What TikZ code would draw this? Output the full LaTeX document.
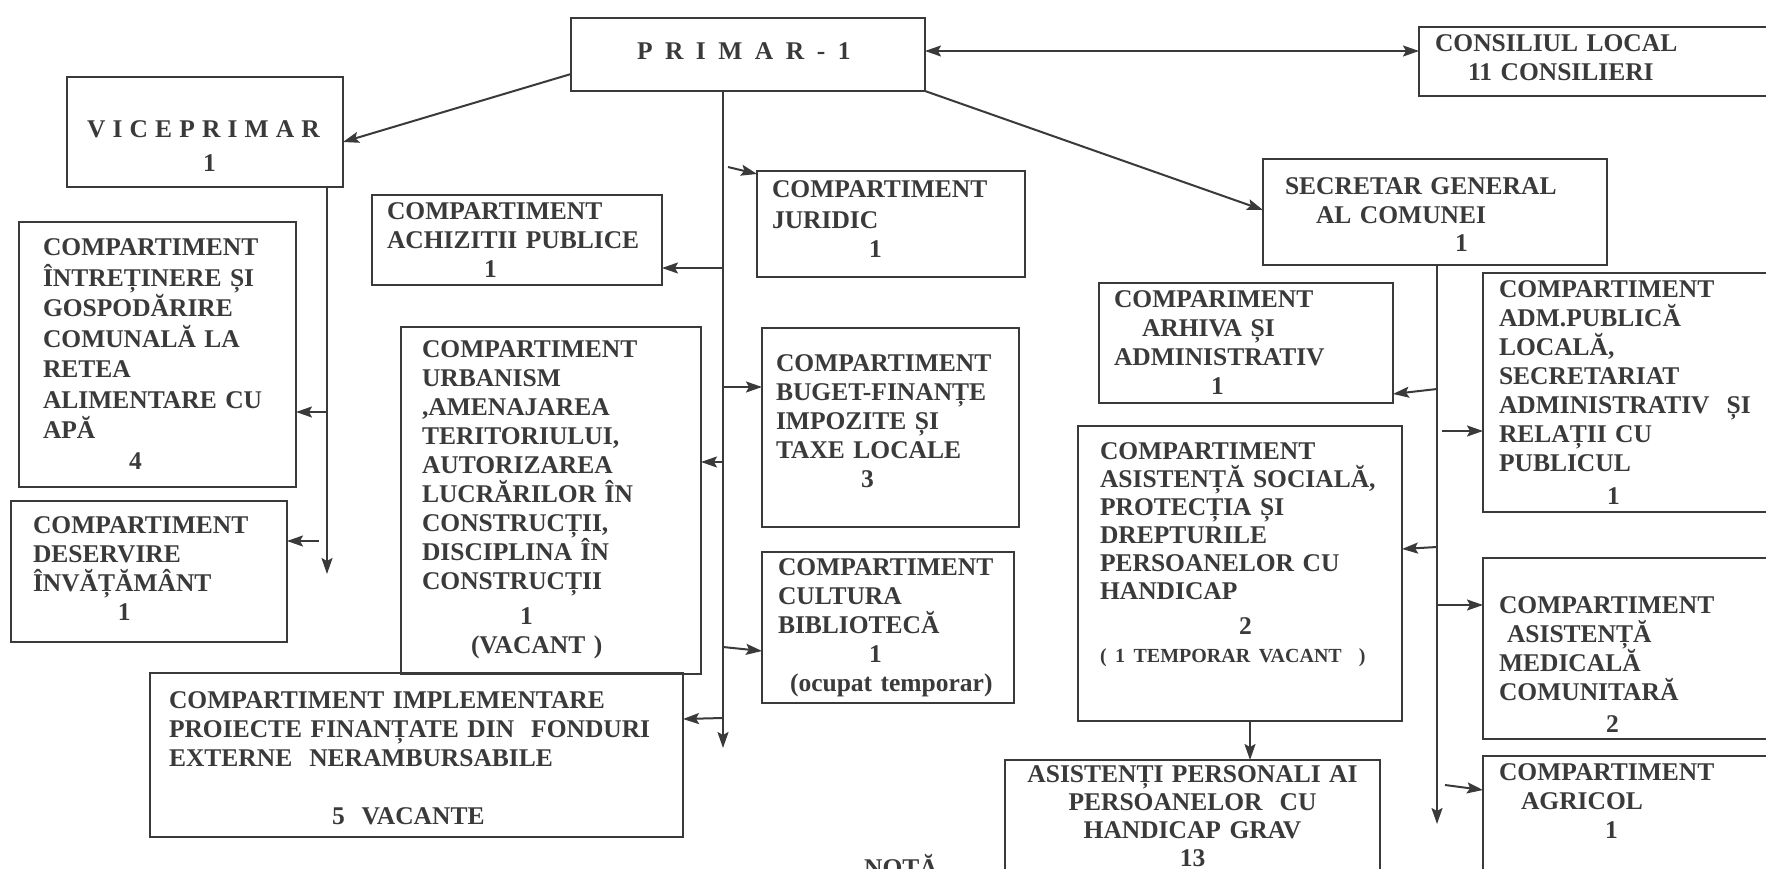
\documentclass[tikz,border=0pt]{standalone}
\usepackage{fontspec}
\setmainfont{Liberation Serif}
\usetikzlibrary{arrows.meta}
\definecolor{ink}{HTML}{3A3A3A}

\begin{document}
\begin{tikzpicture}[x=1pt, y=-1pt,
  dept/.style={draw=ink, line width=2pt, outer sep=0pt, anchor=north west, align=left, inner ysep=0pt, text=ink, font=\bfseries\fontsize{25.5}{29}\selectfont},
  subord/.style={draw=ink, line width=2pt, -{Stealth[length=16pt, width=11pt, inset=3pt]}},
  twoway/.style={subord, {Stealth[length=16pt, width=11pt, inset=3pt]}-{Stealth[length=16pt, width=11pt, inset=3pt]}}]
  \useasboundingbox[fill=white] (0,0) rectangle (1766,869);
  \node[dept, inner xsep=66pt, text width=222pt, text height=41.5pt, text depth=31.5pt] (primar) at (571,18) {{\spaceskip=.49em P R I M A R - 1}};
  \node[dept, inner xsep=16pt, text width=349pt, text height=24.5pt, text depth=44.5pt] (consiliu) at (1419,27) {CONSILIUL~LOCAL\\\hspace*{33pt}11~CONSILIERI};
  \node[dept, inner xsep=20pt, text width=236pt, text height=61pt, text depth=49pt] (vice) at (67,77) {{\spaceskip=.28em V I C E P R I M A R}\\[4.5pt]\hspace*{116pt}1};
  \node[dept, inner xsep=22pt, text width=300pt, text height=35pt, text depth=71pt] (secr) at (1263,159) {SECRETAR~GENERAL\\\hspace*{31pt}AL~COMUNEI\\\hspace*{170pt}1};
  \node[dept, inner xsep=15pt, text width=238pt, text height=26pt, text depth=80pt] (juridic) at (757,171) {COMPARTIMENT\\[2pt]JURIDIC\\\hspace*{97pt}1};
  \node[dept, inner xsep=15pt, text width=260pt, text height=24pt, text depth=66pt] (achiz) at (372,195) {COMPARTIMENT\\ACHIZITII~PUBLICE\\\hspace*{97pt}1};
  \node[dept, font=\bfseries\fontsize{25.5}{30.5}\selectfont, inner xsep=24pt, text width=229pt, text height=33.5pt, text depth=231.5pt] (intret) at (19,222) {COMPARTIMENT\\ÎNTREȚINERE~ȘI\\GOSPODĂRIRE\\COMUNALĂ~LA\\RETEA\\ALIMENTARE~CU\\APĂ\\\hspace*{86pt}4};
  \node[dept, inner xsep=22pt, text width=232pt, text height=32.5pt, text depth=108.5pt] (deserv) at (11,501) {COMPARTIMENT\\DESERVIRE\\ÎNVĂȚĂMÂNT\\\hspace*{85pt}1};
  \node[dept, inner xsep=21pt, text width=258pt, text height=30.5pt, text depth=316.5pt] (urban) at (401,327) {COMPARTIMENT\\URBANISM\\,AMENAJAREA\\TERITORIULUI,\\AUTORIZAREA\\LUCRĂRILOR~ÎN\\CONSTRUCȚII,\\DISCIPLINA~ÎN\\CONSTRUCȚII\\[6pt]\hspace*{98pt}1\\\hspace*{49pt}(VACANT~)};
  \node[dept, inner xsep=14pt, text width=229pt, text height=43pt, text depth=156pt] (buget) at (762,328) {COMPARTIMENT\\BUGET-FINANȚE\\IMPOZITE~ȘI\\TAXE~LOCALE\\\hspace*{85pt}3};
  \node[dept, inner xsep=16pt, text width=220pt, text height=23pt, text depth=128pt] (cultura) at (762,552) {COMPARTIMENT\\CULTURA\\BIBLIOTECĂ\\\hspace*{91pt}1\\\hspace*{12pt}(ocupat~temporar)};
  \node[dept, inner xsep=19pt, text width=495pt, text height=35.5pt, text depth=128.5pt] (implem) at (150,673) {COMPARTIMENT~IMPLEMENTARE\\PROIECTE~FINANȚATE~DIN~~FONDURI\\EXTERNE~~NERAMBURSABILE\\[29pt]\hspace*{163pt}5~~VACANTE};
  \node[dept, inner xsep=15pt, text width=264pt, text height=24pt, text depth=96pt] (arhiva) at (1099,283) {COMPARIMENT\\\hspace*{28pt}ARHIVA~ȘI\\ADMINISTRATIV\\\hspace*{97pt}1};
  \node[dept, inner xsep=16pt, text width=285pt, text height=24.5pt, text depth=214.5pt] (adm) at (1483,273) {COMPARTIMENT\\ADM.PUBLICĂ\\LOCALĂ,\\SECRETARIAT\\ADMINISTRATIV~~ȘI\\RELAȚII~CU\\PUBLICUL\\[4pt]\hspace*{108pt}1};
  \node[dept, font=\bfseries\fontsize{25.5}{28}\selectfont, inner xsep=22pt, text width=280pt, text height=33pt, text depth=262pt] (asoc) at (1078,426) {COMPARTIMENT\\ASISTENȚĂ~SOCIALĂ,\\PROTECȚIA~ȘI\\DREPTURILE\\PERSOANELOR~CU\\HANDICAP\\[7.5pt]\hspace*{139pt}2\\{\fontsize{20}{28}\selectfont(~1~TEMPORAR~VACANT~~)}};
  \node[dept, inner xsep=16pt, text width=285pt, text height=55pt, text depth=126pt] (medic) at (1483,558) {COMPARTIMENT\\\hspace*{8pt}ASISTENȚĂ\\MEDICALĂ\\COMUNITARĂ\\[3pt]\hspace*{107pt}2};
  \node[dept, inner xsep=16pt, text width=285pt, text height=24pt, text depth=120pt] (agric) at (1483,756) {COMPARTIMENT\\\hspace*{22pt}AGRICOL\\\hspace*{106pt}1};
  \node[dept, align=center, font=\bfseries\fontsize{25.5}{28}\selectfont, inner xsep=10pt, text width=355pt, text height=22.5pt, text depth=117.5pt] (asist) at (1005,760) {ASISTENȚI~PERSONALI~AI\\PERSOANELOR~~CU\\HANDICAP~GRAV\\13};
  \node[anchor=base west, inner sep=0pt, text=ink, font=\bfseries\fontsize{25.5}{29}\selectfont] (nota) at (864,876) {NOTĂ};
  \coordinate (pend) at (723,748);
  \coordinate (vend) at (327,574);
  \coordinate (send) at (1437,824);
  \draw[twoway] ([yshift=3.5pt]primar.east) -- ([yshift=3.5pt]primar.east -| consiliu.west);
  \draw[subord] ([yshift=-19.5pt]primar.west) -- ([yshift=-10pt]vice.east);
  \draw[subord] (primar.south east) -- ([yshift=2pt]secr.west);
  \draw[subord] (primar.south -| pend) -- (pend);
  \draw[subord] (vice.south -| vend) -- (vend);
  \draw[subord] (secr.south -| send) -- (send);
  \draw[subord] ([xshift=5pt,yshift=4pt]pend |- juridic.north) -- ([yshift=-3pt]juridic.north west);
  \draw[subord] ([yshift=-28pt]pend |- achiz.east) -- ([yshift=-28pt]achiz.east);
  \draw[subord] ([yshift=40.5pt]pend |- buget.west) -- ([yshift=40.5pt]buget.west);
  \draw[subord] ([yshift=38.5pt]pend |- urban.east) -- ([yshift=38.5pt]urban.east);
  \draw[subord] ([yshift=-19.5pt]pend |- cultura.west) -- ([yshift=-23.5pt]cultura.west);
  \draw[subord] ([yshift=37pt]pend |- implem.east) -- ([yshift=36pt]implem.east);
  \draw[subord] ([yshift=-57.5pt]vend |- intret.east) -- ([yshift=-57.5pt]intret.east);
  \draw[subord] ([xshift=-8pt,yshift=30.5pt]vend |- deserv.east) -- ([yshift=30.5pt]deserv.east);
  \draw[subord] ([yshift=-46pt]send |- arhiva.east) -- ([yshift=-51pt]arhiva.east);
  \draw[subord] ([xshift=5pt,yshift=-38.5pt]send |- adm.west) -- ([yshift=-38.5pt]adm.west);
  \draw[subord] ([yshift=26.5pt]send |- asoc.east) -- ([yshift=24.5pt]asoc.east);
  \draw[subord] ([yshift=43.5pt]send |- medic.west) -- ([yshift=43.5pt]medic.west);
  \draw[subord] ([xshift=8pt,yshift=43pt]send |- agric.west) -- ([yshift=38pt]agric.west);
  \draw[subord] ([xshift=10pt]asoc.south) -- ([xshift=10pt]asoc.south |- asist.north);
\end{tikzpicture}
\end{document}
